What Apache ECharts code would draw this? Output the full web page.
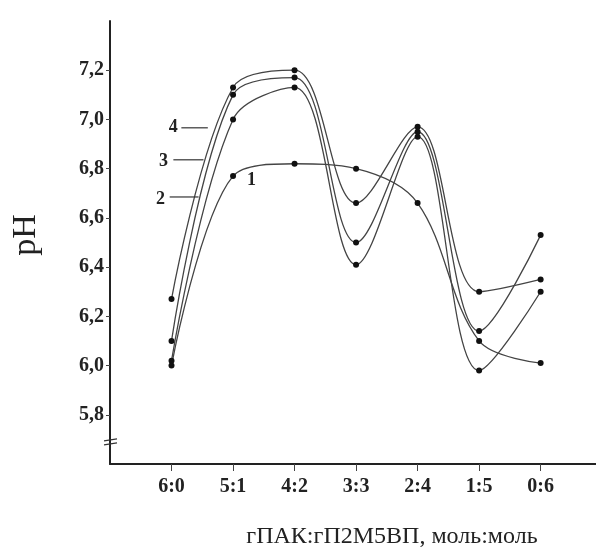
<!DOCTYPE html>
<html><head><meta charset="utf-8">
<script src="https://cdn.jsdelivr.net/npm/echarts@6/dist/echarts.min.js"></script>
<style>html,body{margin:0;padding:0;background:#fff}#c{width:596px;height:551px}</style>
</head><body><div id="c"></div>
<script>
var categories = ['6:0','5:1','4:2','3:3','2:4','1:5','0:6'];
var curve1 = [6.00, 6.77, 6.82, 6.80, 6.66, 6.10, 6.01];
var curve2 = [6.02, 7.00, 7.13, 6.41, 6.93, 5.98, 6.30];
var curve3 = [6.10, 7.10, 7.17, 6.50, 6.95, 6.14, 6.53];
var curve4 = [6.27, 7.13, 7.20, 6.66, 6.97, 6.30, 6.35];
var yTicks = [5.8, 6.0, 6.2, 6.4, 6.6, 6.8, 7.0, 7.2];
var curveNames = ['1','2','3','4'];
// annotation anchors in data coordinates
var annots = [
  {t:'4', x:0.03, y:6.966, lx0:0.16, lx1:0.59, ly:6.966},
  {t:'3', x:-0.13, y:6.828, lx0:0.03, lx1:0.52, ly:6.836},
  {t:'2', x:-0.18, y:6.677, lx0:-0.03, lx1:0.44, ly:6.685},
  {t:'1', x:1.30, y:6.754}
];
var serif = '"Liberation Serif","DejaVu Serif",serif';
var chart = echarts.init(document.getElementById('c'));
var all = [curve1, curve2, curve3, curve4];
var series = all.map(function(arr, i){
  return {
    name: curveNames[i], type: 'line', smooth: 0.35,
    data: arr.map(function(v, j){ return [j, v]; }),
    symbol: 'circle', symbolSize: 6,
    itemStyle: {color: '#111'},
    lineStyle: {color: '#444', width: 1.3},
    z: 3
  };
});
chart.setOption({
  animation: false,
  grid: {left: 110, right: 0, top: 21, bottom: 87, containLabel: false, outerBoundsMode: 'none'},
  xAxis: {
    type: 'value', min: -1, max: 6.9,
    splitLine: {show: false},
    axisLine: {onZero: false, lineStyle: {color: '#222', width: 2}},
    axisTick: {show: true, length: 7, customValues: [0,1,2,3,4,5,6], lineStyle: {color: '#444', width: 1}},
    axisLabel: {customValues: [0,1,2,3,4,5,6], margin: 13,
      formatter: function(v){ return categories[Math.round(v)]; },
      fontFamily: serif, fontWeight: 'bold', fontSize: 20, color: '#222'},
    name: 'гПАК:гП2М5ВП, моль:моль', nameLocation: 'middle', nameGap: 61,
    nameTextStyle: {fontFamily: serif, fontSize: 24, color: '#222', padding: [0, 0, 0, 78]}
  },
  yAxis: {
    type: 'value', min: 5.6, max: 7.4, interval: 0.2,
    splitLine: {show: false},
    axisLine: {show: true, onZero: false, lineStyle: {color: '#222', width: 2}},
    axisTick: {show: true, length: 4, customValues: yTicks, lineStyle: {color: '#444', width: 1}},
    axisLabel: {customValues: yTicks, margin: 6,
      formatter: function(v){ return v.toFixed(1).replace('.', ','); },
      fontFamily: serif, fontWeight: 'bold', fontSize: 20, color: '#222'},
    name: 'pH', nameLocation: 'middle', nameGap: 67, nameRotate: 90,
    nameTextStyle: {fontFamily: serif, fontSize: 34, color: '#222', padding: [0, 0, 0, 15]}
  },
  series: series
});
function place(){
  var g = [];
  annots.forEach(function(a){
    var p = chart.convertToPixel({gridIndex:0}, [a.x, a.y]);
    g.push({type:'text', x:p[0], y:p[1], style:{text:a.t, fontFamily:serif, fontWeight:'bold', fontSize:18, fill:'#222', align:'center', verticalAlign:'middle'}, z:10});
    if (a.lx0 !== undefined) {
      var p0 = chart.convertToPixel({gridIndex:0}, [a.lx0, a.ly]);
      var p1 = chart.convertToPixel({gridIndex:0}, [a.lx1, a.ly]);
      g.push({type:'line', shape:{x1:p0[0], y1:p0[1], x2:p1[0], y2:p1[1]}, style:{stroke:'#333', lineWidth:1.2}, z:10});
    }
  });
  var b = chart.convertToPixel({gridIndex:0}, [-1, 5.69]);
  g.push({type:'line', shape:{x1:b[0]-6, y1:b[1]-1, x2:b[0]+7, y2:b[1]-3}, style:{stroke:'#333', lineWidth:1.2}, z:10});
  g.push({type:'line', shape:{x1:b[0]-6, y1:b[1]+3, x2:b[0]+7, y2:b[1]+1}, style:{stroke:'#333', lineWidth:1.2}, z:10});
  chart.setOption({graphic: g});
}
place();
</script></body></html>
